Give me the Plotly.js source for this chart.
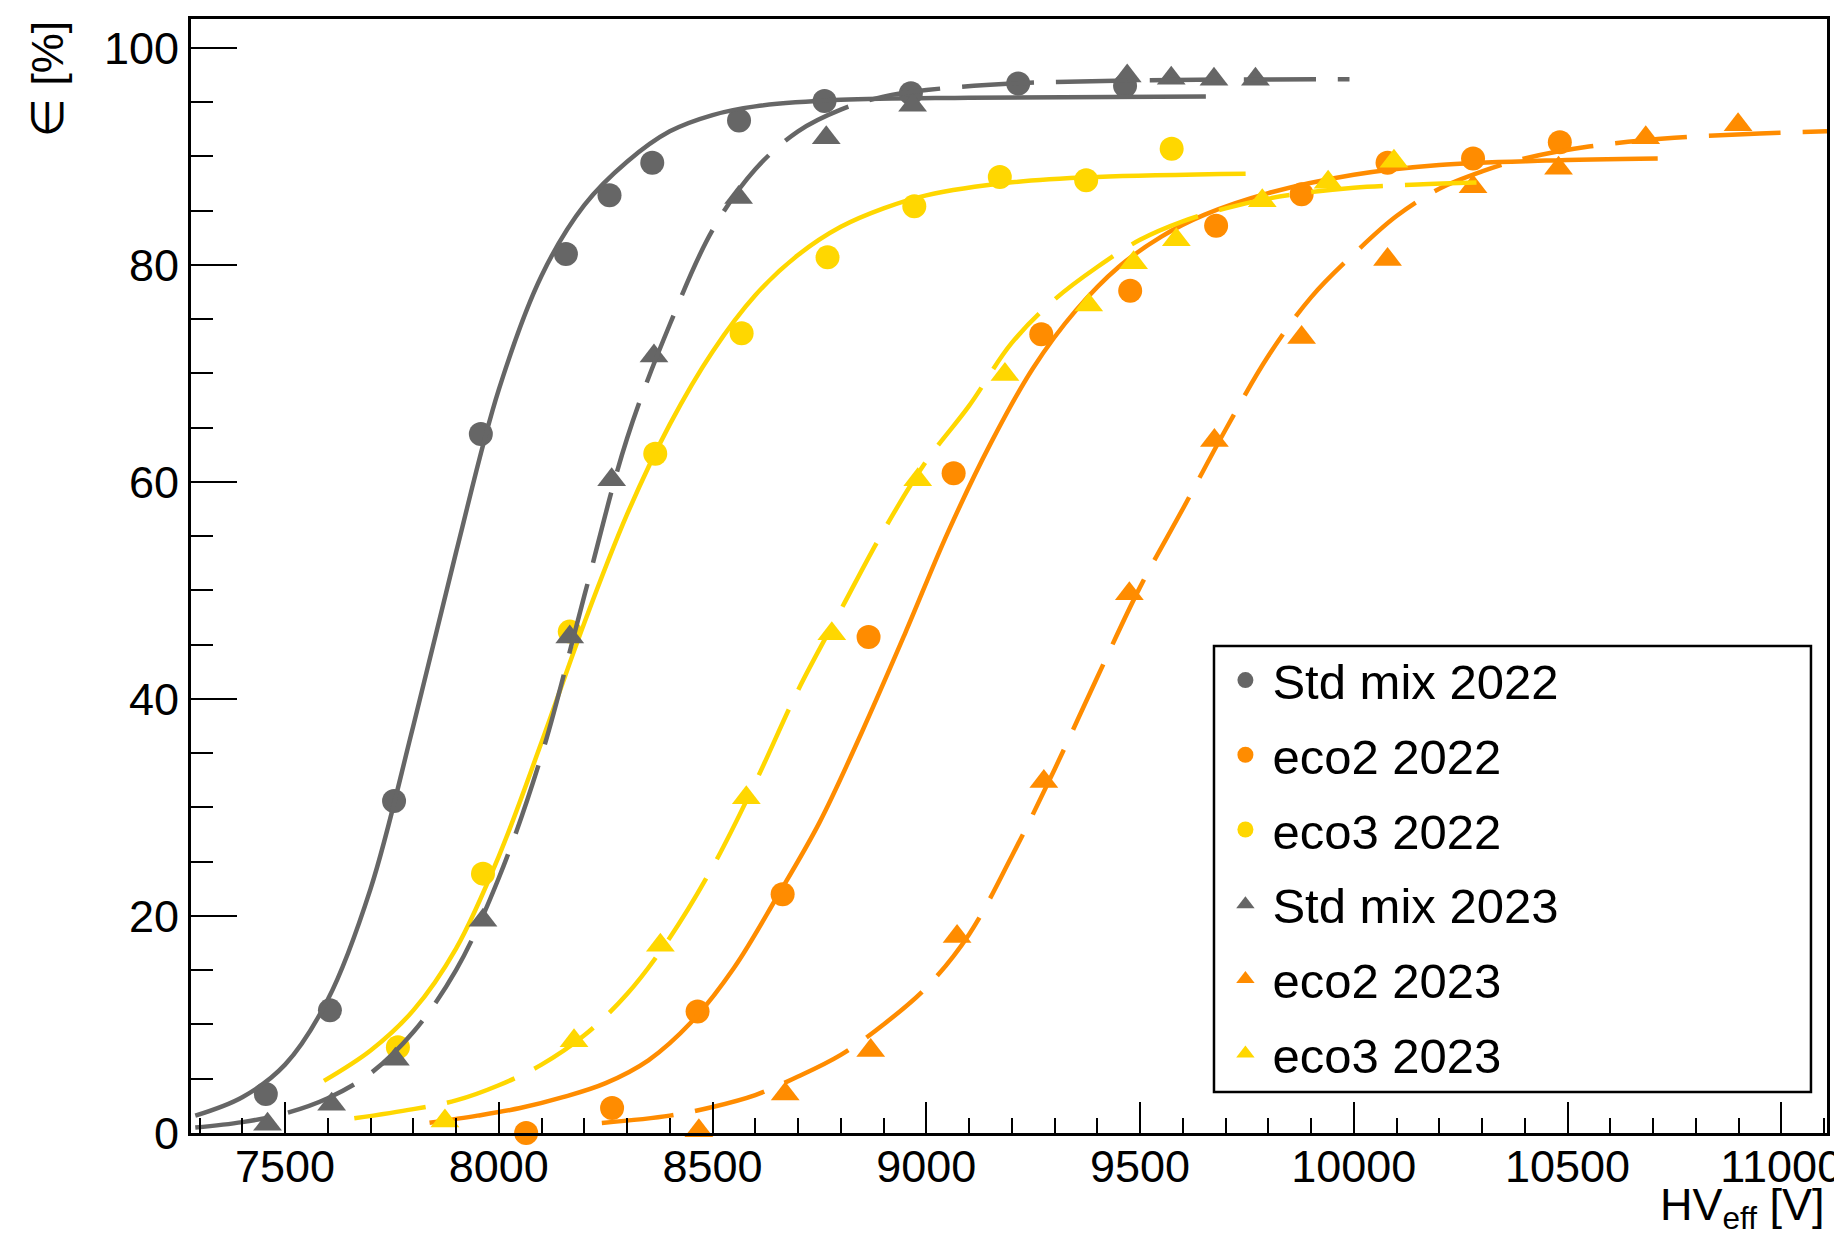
<!DOCTYPE html>
<html>
<head>
<meta charset="utf-8">
<script src="https://cdn.plot.ly/plotly-3.0.1.min.js"></script>
<style>html,body{margin:0;padding:0;background:#fff;}#chart{width:1834px;height:1234px;}</style>
</head>
<body>
<div id="chart"></div>
<script>
// ---- measured points ----
const std22X = [7455, 7605, 7755, 7958, 8157, 8259, 8359, 8562, 8762, 8964, 9215, 9465];
const std22Y = [3.6, 11.3, 30.6, 64.4, 81.0, 86.4, 89.4, 93.3, 95.1, 95.8, 96.7, 96.5];

const eco2_22X = [8064, 8265, 8465, 8664, 8865, 9064, 9269, 9477, 9678, 9878, 10079, 10279, 10482];
const eco2_22Y = [0.0, 2.3, 11.2, 22.0, 45.7, 60.8, 73.6, 77.6, 83.6, 86.5, 89.4, 89.8, 91.3];

const eco3_22X = [7764, 7963, 8166, 8366, 8568, 8769, 8972, 9172, 9374, 9574];
const eco3_22Y = [7.9, 23.9, 46.2, 62.6, 73.7, 80.7, 85.4, 88.1, 87.8, 90.7];

const std23X = [7459, 7609, 7758, 7963, 8166, 8264, 8363, 8561, 8766, 8968, 9470, 9573, 9673, 9770];
const std23Y = [0.8, 2.65, 6.8, 19.6, 45.7, 60.2, 71.6, 86.2, 91.7, 94.7, 97.4, 97.2, 97.1, 97.1];

const eco2_23X = [8468, 8670, 8870, 9072, 9275, 9475, 9674, 9878, 10079, 10279, 10479, 10683, 10899];
const eco2_23Y = [0.2, 3.6, 7.6, 18.1, 32.4, 49.7, 63.8, 73.3, 80.5, 87.2, 88.9, 91.7, 92.9];

const eco3_23X = [7874, 8176, 8378, 8579, 8779, 8980, 9184, 9380, 9485, 9585, 9786, 9940, 10094];
const eco3_23Y = [1.1, 8.5, 17.3, 30.9, 46.0, 60.2, 69.9, 76.3, 80.2, 82.3, 85.9, 87.6, 89.55];

// ---- fit curves ----
const fitStd22X = [7290, 7400, 7500, 7600, 7700, 7800, 7900, 8000, 8100, 8200, 8300, 8400, 8500, 8600, 8800, 9100, 9654];
const fitStd22Y = [1.6, 3.3, 6.3, 12.3, 22.5, 37.5, 53.5, 68.5, 79.0, 85.5, 89.5, 92.3, 93.8, 94.6, 95.2, 95.4, 95.5];

const fitEco2_22X = [7838, 7950, 8050, 8150, 8250, 8350, 8450, 8550, 8650, 8750, 8850, 8950, 9050, 9150, 9250, 9350, 9450, 9550, 9650, 9800, 10000, 10200, 10450, 10711];
const fitEco2_22Y = [0.95, 1.6, 2.3, 3.3, 4.6, 6.7, 10.2, 15.2, 21.7, 28.6, 37.0, 46.0, 55.3, 63.5, 70.5, 75.8, 79.8, 82.6, 84.6, 86.6, 88.3, 89.2, 89.6, 89.8];

const fitEco3_22X = [7591, 7700, 7800, 7900, 8000, 8100, 8200, 8300, 8400, 8500, 8600, 8700, 8800, 8900, 9000, 9200, 9400, 9747];
const fitEco3_22Y = [4.8, 7.6, 11.3, 17.0, 25.5, 36.0, 47.0, 57.0, 65.3, 72.0, 77.2, 80.9, 83.5, 85.2, 86.4, 87.6, 88.1, 88.4];

const fitStd23X = [7290, 7400, 7500, 7600, 7700, 7800, 7900, 8000, 8100, 8200, 8300, 8400, 8500, 8600, 8700, 8800, 8900, 9000, 9200, 9500, 9990];
const fitStd23Y = [0.5, 1.0, 1.8, 3.2, 5.5, 9.3, 15.0, 23.5, 34.8, 49.5, 64.0, 74.5, 83.2, 88.8, 92.3, 94.3, 95.5, 96.1, 96.7, 97.0, 97.1];

const fitEco2_23X = [8241, 8400, 8500, 8600, 8700, 8800, 8900, 9000, 9100, 9200, 9300, 9400, 9500, 9600, 9700, 9800, 9900, 10000, 10100, 10200, 10300, 10400, 10550, 10750, 10950, 11107];
const fitEco2_23Y = [0.92, 1.6, 2.4, 3.5, 5.2, 7.2, 10.0, 13.4, 18.3, 25.5, 33.5, 42.0, 50.3, 57.5, 64.8, 71.6, 77.0, 81.0, 84.5, 87.0, 88.6, 89.8, 90.9, 91.7, 92.1, 92.3];

const fitEco3_23X = [7662, 7800, 7900, 8000, 8100, 8200, 8300, 8400, 8500, 8600, 8700, 8800, 8900, 9000, 9100, 9200, 9300, 9400, 9500, 9600, 9700, 9800, 9900, 10000, 10150, 10307];
const fitEco3_23Y = [1.35, 2.2, 3.0, 4.4, 6.3, 9.0, 12.8, 18.0, 24.5, 32.3, 40.8, 48.2, 55.5, 61.9, 67.0, 72.8, 76.8, 79.8, 82.3, 84.0, 85.2, 86.1, 86.7, 87.1, 87.4, 87.6];

const seriesNames = ["Std mix 2022", "eco2 2022", "eco3 2022", "Std mix 2023", "eco2 2023", "eco3 2023"];

const GREY = "#666666", ORANGE = "#ff8c00", YELLOW = "#ffd700";
const FONT = "Liberation Sans, Arial, Helvetica, DejaVu Sans, sans-serif";
const DASH = "72px,22px";

function pts(x, y, name, color, symbol, size) {
  return {x: x, y: y, type: "scatter", mode: "markers", name: name, legendgroup: name,
    cliponaxis: false,
    marker: {color: color, symbol: symbol, size: size, line: {width: 0}}};
}
function fit(x, y, name, color, dash) {
  return {x: x, y: y, type: "scatter", mode: "lines", name: name + " fit", legendgroup: name,
    showlegend: false, hoverinfo: "skip",
    line: {color: color, width: 4.5, shape: "spline", smoothing: 1, dash: dash}};
}

const data = [
  pts(std22X, std22Y, seriesNames[0], GREY, "circle", 24),
  fit(fitStd22X, fitStd22Y, seriesNames[0], GREY, "solid"),
  pts(eco2_22X, eco2_22Y, seriesNames[1], ORANGE, "circle", 24),
  fit(fitEco2_22X, fitEco2_22Y, seriesNames[1], ORANGE, "solid"),
  pts(eco3_22X, eco3_22Y, seriesNames[2], YELLOW, "circle", 24),
  fit(fitEco3_22X, fitEco3_22Y, seriesNames[2], YELLOW, "solid"),
  pts(std23X, std23Y, seriesNames[3], GREY, "triangle-up", 25),
  fit(fitStd23X, fitStd23Y, seriesNames[3], GREY, DASH),
  pts(eco2_23X, eco2_23Y, seriesNames[4], ORANGE, "triangle-up", 25),
  fit(fitEco2_23X, fitEco2_23Y, seriesNames[4], ORANGE, DASH),
  pts(eco3_23X, eco3_23Y, seriesNames[5], YELLOW, "triangle-up", 25),
  fit(fitEco3_23X, fitEco3_23Y, seriesNames[5], YELLOW, DASH)
];

const layout = {
  width: 1834, height: 1234,
  margin: {l: 191, r: 7, t: 19, b: 101, pad: 0},
  paper_bgcolor: "#ffffff", plot_bgcolor: "#ffffff",
  font: {family: FONT, color: "#000000", size: 45},
  showlegend: true,
  xaxis: {
    range: [7280, 11107], tickmode: "linear", tick0: 7500, dtick: 500,
    ticks: "inside", ticklen: 31, tickwidth: 2, tickcolor: "#000",
    showline: true, linecolor: "#000", linewidth: 3, mirror: true,
    showgrid: false, zeroline: false, tickformat: "d", automargin: false,
    ticklabeloverflow: "allow", ticklabelstandoff: -8,
    tickfont: {family: FONT, size: 45, color: "#000"},
    minor: {dtick: 100, tick0: 7500, ticks: "inside", ticklen: 15, tickwidth: 2, tickcolor: "#000", showgrid: false}
  },
  yaxis: {
    range: [0, 102.65], tickmode: "linear", tick0: 0, dtick: 20,
    ticks: "inside", ticklen: 46, tickwidth: 2, tickcolor: "#000",
    showline: true, linecolor: "#000", linewidth: 3, mirror: true,
    showgrid: false, zeroline: false, automargin: false,
    tickfont: {family: FONT, size: 45, color: "#000"},
    minor: {dtick: 5, tick0: 0, ticks: "inside", ticklen: 22, tickwidth: 2, tickcolor: "#000", showgrid: false}
  },
  legend: {
    x: 0.628, y: 0.441, xanchor: "left", yanchor: "top",
    bgcolor: "rgba(0,0,0,0)", borderwidth: 0, itemwidth: 44,
    font: {family: FONT, size: 49, color: "#000"},
    traceorder: "grouped", tracegroupgap: 8
  },
  shapes: [{
    type: "rect", xref: "paper", yref: "paper",
    x0: 0.6253, x1: 0.9902, y0: 0.0368, y1: 0.4372,
    line: {color: "#000", width: 2.5}, fillcolor: "#ffffff", layer: "below"
  }],
  annotations: [
    {text: "HV<sub>eff</sub> [V]", xref: "paper", yref: "paper", x: 1, y: 0,
     xanchor: "right", yanchor: "top", yshift: -44, showarrow: false,
     font: {family: FONT, size: 45, color: "#000"}},
    {text: "\u2208 [%]", xref: "paper", yref: "paper", x: -0.088, y: 1,
     xanchor: "center", yanchor: "top", textangle: -90, showarrow: false,
     font: {family: FONT, size: 45, color: "#000"}}
  ]
};

Plotly.newPlot("chart", data, layout, {displayModeBar: false, staticPlot: true});
</script>
</body>
</html>
